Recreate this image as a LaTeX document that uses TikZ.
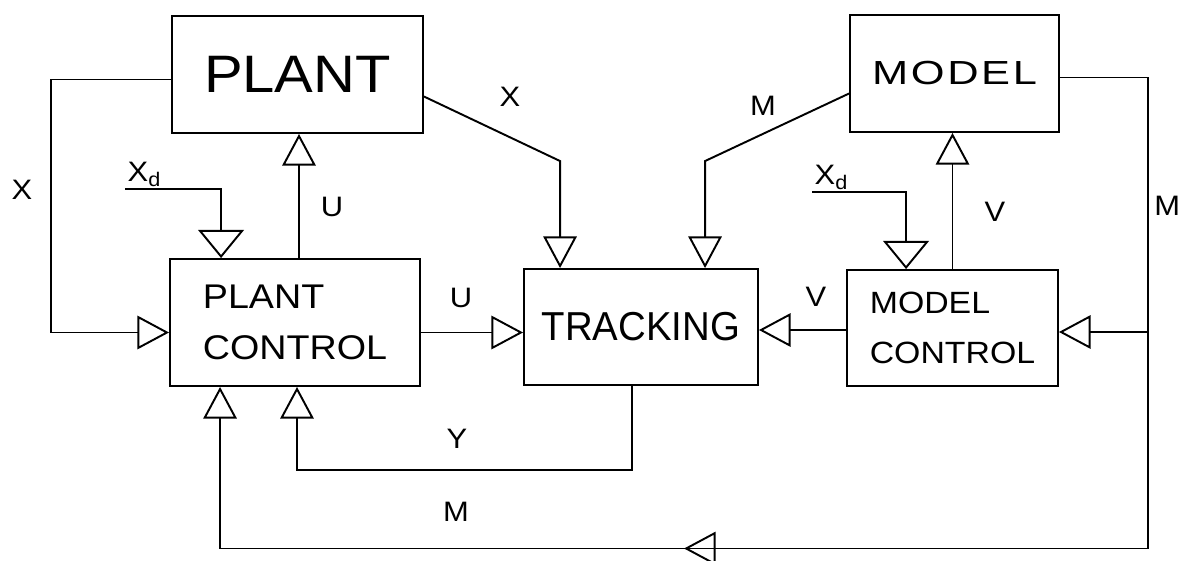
\documentclass[tikz,border=0pt]{standalone}
\usepackage{fontspec}
\newfontfamily\plotfont{Liberation Sans}[FakeStretch=1.1]
\newfontfamily\plotwide{Liberation Sans}[FakeStretch=1.3,LetterSpace=8]
\newfontfamily\plotnarrow{Liberation Sans}[FakeStretch=0.95]
\usetikzlibrary{arrows.meta,positioning,calc,decorations.markings}

\begin{document}
\begin{tikzpicture}[x=0.02cm,y=-0.02cm,line width=1.1pt,>={Triangle[open,length=18pt,width=19pt]}]
  \tikzset{block/.style={draw, line width=1.1pt, align=left, inner sep=0pt},
    sig/.style={font=\plotfont\fontsize{16}{16}\selectfont, inner sep=1pt},
    flow/.style={->, line width=1.1pt},
    setflow/.style={-{Triangle[open,length=16pt,width=26pt]}, line width=1.1pt},
    midarrow/.style={postaction={decorate}, decoration={markings, mark=at position 9.28cm with {\arrow{>}}}}}
  \useasboundingbox (0,0) rectangle (1181,561);
  % blocks
  \node[block, font={\plotfont\fontsize{30}{36}\selectfont}, minimum width=5.02cm, minimum height=2.34cm] (plant) at (297.5,74.5) {PLANT};
  \node[block, font={\plotwide\fontsize{19}{22}\selectfont}, minimum width=4.18cm, minimum height=2.34cm] (model) at (954.5,73.5) {MODEL};
  \node[block, font={\plotfont\fontsize{19.5}{29}\selectfont}, minimum width=5.0cm, minimum height=2.54cm] (pc) at (295,322.5) {PLANT\\CONTROL};
  \node[block, font={\plotnarrow\fontsize{23}{28}\selectfont}, minimum width=4.68cm, minimum height=2.32cm] (trk) at (641,327) {TRACKING};
  \node[block, font={\plotfont\fontsize{17.5}{28}\selectfont}, minimum width=4.22cm, minimum height=2.32cm] (mc) at (952.5,328) {MODEL\\CONTROL};
  % plant side
  \draw[flow] ($(plant.west)+(0,5)$) -- ++(-120,0) |- ($(pc.west)+(0,10)$);
  \node[sig] (xfb) at (22,190) {X};
  \node[sig, anchor=south west] (xdl) at (125,189) {X\textsubscript{d}};
  \draw[setflow] (xdl.south west) -| ($(pc.north west)+(52,0)$);
  \draw[flow] ($(pc.north)+(4,0)$) coordinate (uup) -- (uup |- plant.south);
  \node[sig] (uup lbl) at (332,207) {U};
  % into tracking
  \draw[flow] ($(plant.east)+(0,22)$) -- ($(trk.north west)+(37,-107)$) -- ($(trk.north west)+(37,0)$);
  \node[sig] (x lbl) at (510,97) {X};
  \draw[flow] ($(model.west)+(0,20)$) -- ($(trk.north west)+(182,-107)$) -- ($(trk.north west)+(182,0)$);
  \node[sig] (m lbl) at (763,106) {M};
  \draw[flow] ($(pc.east)+(0,10)$) coordinate (uin) -- (uin -| trk.west);
  \node[sig] (uin lbl) at (461,298) {U};
  \draw[flow] ($(mc.west)+(0,2)$) coordinate (vin) -- (vin -| trk.east);
  \node[sig] (vin lbl) at (816,297) {V};
  % model side
  \draw[flow] (mc.north) -- (mc.north |- model.south);
  \node[sig] (vup lbl) at (995,212) {V};
  \node[sig, anchor=south west] (xdr) at (812,192) {X\textsubscript{d}};
  \draw[setflow] (xdr.south west) -| ($(mc.north west)+(60,0)$);
  % tracking output
  \draw[flow] ($(trk.south west)+(109,0)$) -- ++(0,84) -| ($(pc.south)+(2,0)$);
  \node[sig] (y lbl) at (457,439) {Y};
  % model output back to both controllers
  \coordinate (mleft) at ($(pc.south west)+(51,0)$);
  \draw ($(model.east)+(0,4)$) -- ++(88,0) coordinate (mtop) -- ++(0,471) coordinate (mcorner);
  \draw[flow, midarrow] (mcorner) -- (mcorner -| mleft) -- (mleft);
  \draw[flow] ($(mc.east)+(0,4)$) coordinate (min) ++(89,0) -- (min);
  \node[sig, anchor=east, inner sep=0pt] (mr lbl) at (1181,206) {M};
  \node[sig] (mb lbl) at (456,512) {M};
\end{tikzpicture}
\end{document}
